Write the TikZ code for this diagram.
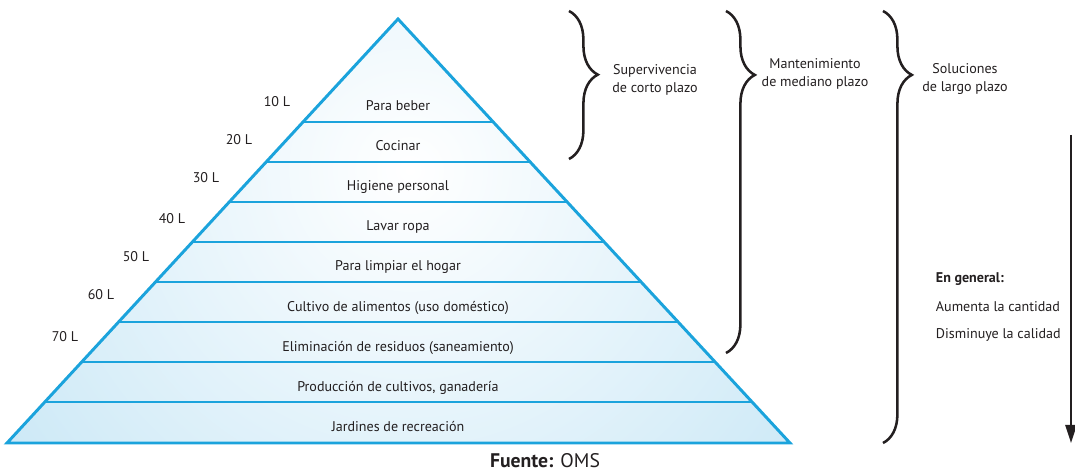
\documentclass[tikz,border=0pt]{standalone}
\usepackage{fontspec}
\setmainfont{PT Sans}
\usepackage{tikz}
\usetikzlibrary{arrows.meta,calc,decorations.pathreplacing}

\definecolor{pyrline}{HTML}{1BA3DC}
\definecolor{pyrfill}{HTML}{BDE2F4}
\definecolor{ink}{HTML}{231F20}

\tikzset{
  bandline/.style={pyrline, line width=1.5pt},
  bandtext/.style={font=\fontsize{10}{12}\selectfont, text=ink, anchor=base},
  amount/.style={font=\fontsize{10}{12}\selectfont, text=ink, anchor=base},
  bracetext/.style={font=\fontsize{10}{12.5}\selectfont, text=ink, align=center},
  bracket/.style={decorate, draw=ink, line width=1.8pt,
    decoration={brace, amplitude=0.72cm}}
}

\begin{document}
\begin{tikzpicture}[x=0.025cm, y=-0.025cm]
    \useasboundingbox (0,0) rectangle (1075,471);

    % Pyramid
    \coordinate (apex) at (398,19);
    \coordinate (baseL) at (7,443);
    \coordinate (baseR) at (790,443);
    \begin{scope}
        \clip (apex) -- (baseL) -- (baseR) -- cycle;
        \shade[inner color=white, outer color=pyrfill] (410,170) circle (640);
    \end{scope}

    % Levels
    \foreach \y in {122,162,...,402}
        \draw[bandline] ($(apex)!{(\y-19)/424}!(baseL)$) -- ($(apex)!{(\y-19)/424}!(baseR)$);
    \draw[pyrline, line width=2.1pt, line join=miter] (apex) -- (baseL) -- (baseR) -- cycle;

    % Uses
    \foreach \t [count=\i from 0] in {Para beber, Cocinar, Higiene personal, Lavar ropa,
        Para limpiar el hogar, Cultivo de alimentos (uso doméstico),
        Eliminación de residuos (saneamiento), {Producción de cultivos, ganadería},
        Jardines de recreación}
        \node[bandtext] (use\i) at (398,{111+40*\i}) {\t};

    % Litres
    \foreach \v/\x/\y in {10/277/107, 20/239/145, 30/206/183, 40/172/224,
        50/136/262, 60/101/300, 70/65/341}
        \node[amount] (lit\v) at (\x,\y) {\v\ L};

    % Braces
    \coordinate (shortA) at (569,11);
    \coordinate (shortB) at (569,159);
    \coordinate (midA) at (726,11);
    \coordinate (midB) at (726,353);
    \coordinate (longA) at (883,11);
    \coordinate (longB) at (883,443);
    \draw[bracket, decoration={aspect=0.43}] (shortA) -- (shortB);
    \draw[bracket, decoration={aspect=0.187}] (midA) -- (midB);
    \draw[bracket, decoration={aspect=0.148}] (longA) -- (longB);
    \node[bracetext] (short) at (655,80) {Supervivencia\\de corto plazo};
    \node[bracetext] (medium) at (815,74) {Mantenimiento\\de mediano plazo};
    \node[bracetext] (long) at (965,79) {Soluciones\\de largo plazo};

    % Trend
    \coordinate (trendA) at (1071,135);
    \coordinate (trendB) at (1071,443);
    \draw[ink, line width=1.4pt, -{Triangle[length=0.45cm, width=0.28cm]}] (trendA) -- (trendB);
    \node[amount, anchor=base west, font=\fontsize{10}{12}\selectfont\bfseries] (general) at (931,283) {En general:};
    \node[amount, anchor=base west] (more) at (931,311) {Aumenta la cantidad};
    \node[amount, anchor=base west] (less) at (931,338) {Disminuye la calidad};

    % Source
    \node[text=ink, font=\fontsize{14}{16}\selectfont, anchor=base, inner sep=0pt] (source) at (545,467) {\textbf{Fuente:} OMS};
\end{tikzpicture}
\end{document}
